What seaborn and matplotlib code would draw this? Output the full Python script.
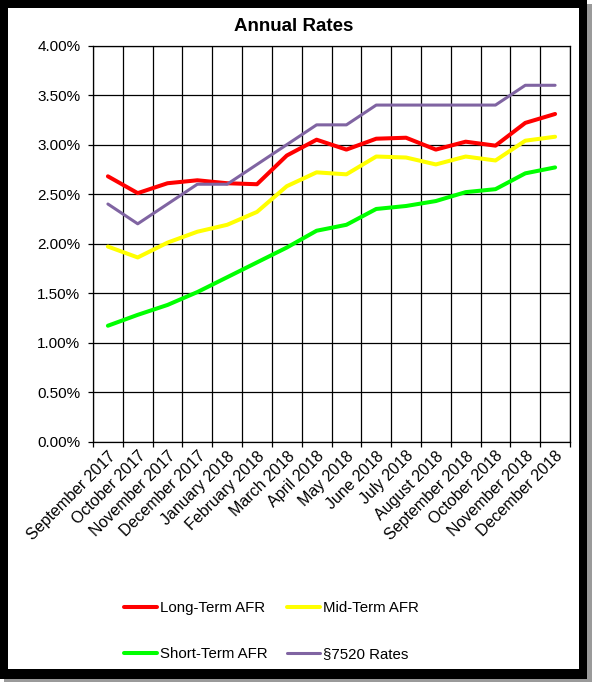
import matplotlib.pyplot as plt
import numpy as np
import pandas as pd
import seaborn as sns
from matplotlib.patches import Rectangle
from matplotlib.ticker import FixedLocator, FuncFormatter, NullFormatter

# Data (annual rates, %)
months = ["September 2017", "October 2017", "November 2017", "December 2017",
          "January 2018", "February 2018", "March 2018", "April 2018",
          "May 2018", "June 2018", "July 2018", "August 2018",
          "September 2018", "October 2018", "November 2018", "December 2018"]

long_term = [2.68, 2.51, 2.61, 2.64, 2.61, 2.60, 2.89, 3.05,
             2.95, 3.06, 3.07, 2.95, 3.03, 2.99, 3.22, 3.31]
mid_term = [1.97, 1.86, 2.01, 2.12, 2.19, 2.32, 2.58, 2.72,
            2.70, 2.88, 2.87, 2.80, 2.88, 2.84, 3.04, 3.08]
short_term = [1.17, 1.28, 1.38, 1.51, 1.66, 1.81, 1.96, 2.13,
              2.19, 2.35, 2.38, 2.43, 2.52, 2.55, 2.71, 2.77]
rates_7520 = [2.4, 2.2, 2.4, 2.6, 2.6, 2.8, 3.0, 3.2,
              3.2, 3.4, 3.4, 3.4, 3.4, 3.4, 3.6, 3.6]

series_names = ["Long-Term AFR", "Mid-Term AFR", "Short-Term AFR", "§7520 Rates"]
series_values = [long_term, mid_term, short_term, rates_7520]
colors = ["#FF0000", "#FFFF00", "#00FF00", "#8064A2"]
widths = [2.9, 2.9, 2.9, 2.2]

sns.set_theme(style="white")
plt.rcParams['font.family'] = ['Liberation Sans', 'DejaVu Sans']

W, H = 592, 682
fig = plt.figure(figsize=(W / 100, H / 100), dpi=100)
fig.patch.set_facecolor("white")

# Frame with shadow around the chart area
fig.add_artist(Rectangle((4 / W, 0), 588 / W, 678 / H, transform=fig.transFigure,
                         facecolor="#9a9a9a", edgecolor="none", zorder=-30))
fig.add_artist(Rectangle((0, 3 / H), 587 / W, 679 / H, transform=fig.transFigure,
                         facecolor="black", edgecolor="none", zorder=-20))
fig.add_artist(Rectangle((8 / W, 13 / H), 571 / W, 661 / H, transform=fig.transFigure,
                         facecolor="white", edgecolor="none", zorder=-10))

ax = fig.add_axes([93 / W, 1 - 441.5 / H, (570 - 93) / W, (441.5 - 45.7) / H])
ax.set_facecolor("white")

x = np.arange(len(months))
for name, vals, c, lw in zip(series_names, series_values, colors, widths):
    df = pd.DataFrame({"idx": x, "rate": vals})
    sns.lineplot(data=df, x="idx", y="rate", color=c, linewidth=lw,
                 label=name, ax=ax, legend=False)

ax.set_xlim(-0.5, len(months) - 0.5)
ax.set_ylim(0, 4)
ax.set_xlabel("")
ax.set_ylabel("")

# x: gridlines/ticks between categories, labels at centers
ax.xaxis.set_major_locator(FixedLocator(np.arange(-0.5, len(months), 1)))
ax.xaxis.set_major_formatter(NullFormatter())
ax.set_xticks(x, labels=months, minor=True)
ax.tick_params(axis="x", which="major", length=3.6, width=0.9, color="black",
               direction="out", bottom=True)
ax.tick_params(axis="x", which="minor", length=0, pad=5, labelsize=11.5,
               labelcolor="black")
plt.setp(ax.get_xticklabels(minor=True), rotation=45, ha="right",
         rotation_mode="anchor")

ax.set_yticks(np.arange(0, 4.01, 0.5))
ax.yaxis.set_major_formatter(FuncFormatter(lambda v, p: f"{v:.2f}%"))
ax.tick_params(axis="y", length=3.6, width=0.9, color="black", direction="out",
               left=True, labelsize=11, labelcolor="black", pad=5.5)

ax.grid(True, which="major", color="black", linewidth=0.9)
for sp in ax.spines.values():
    sp.set_visible(True)
    sp.set_color("black")
    sp.set_linewidth(0.9)

fig.text(293.5 / W, 1 - 26.5 / H, "Annual Rates", ha="center", va="center",
         fontsize=13.5, fontweight="bold", color="black")

# Legend: rows Long/Mid, Short/§7520
handles, labels = ax.get_legend_handles_labels()
order = [0, 2, 1, 3]
fig.legend([handles[i] for i in order], [labels[i] for i in order],
           ncol=2, loc="center", bbox_to_anchor=(271 / W, 1 - 631 / H),
           frameon=False, fontsize=10.8, handlelength=2.2, handletextpad=0.2,
           columnspacing=1.3, labelspacing=2.1, labelcolor="black")

fig.savefig("out.png", dpi=100)
